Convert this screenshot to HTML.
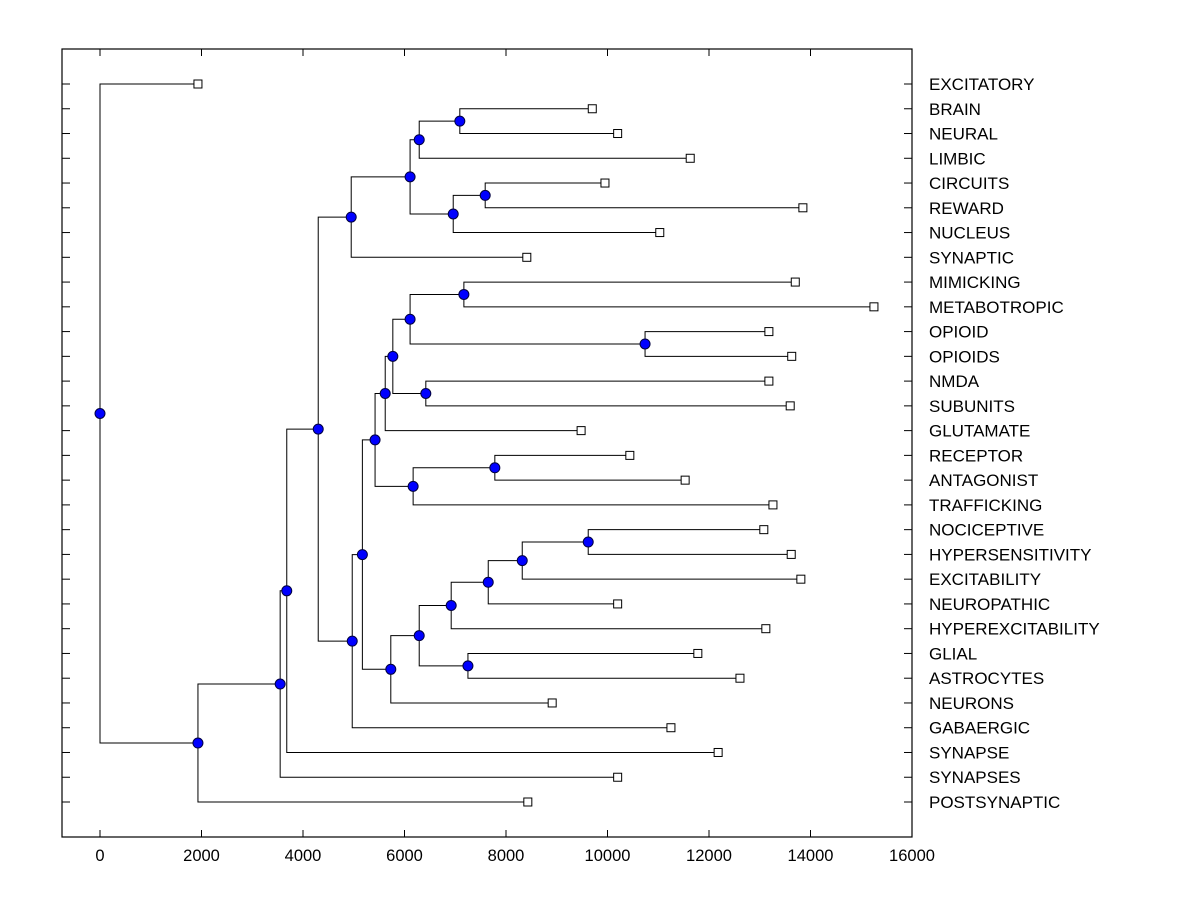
<!DOCTYPE html>
<html><head><meta charset="utf-8"><style>
body{margin:0;background:#fff;}
svg{display:block;font-family:"Liberation Sans",Arial,sans-serif;}
</style></head><body>
<svg id="chart" width="1200" height="900" xmlns="http://www.w3.org/2000/svg">
<rect width="1200" height="900" fill="#fff"/>
<g id="axes"></g>
<g id="links"></g>
<g id="marks"></g>
<g id="labels"></g>
</svg>
<script>
const leaves = ["EXCITATORY","BRAIN","NEURAL","LIMBIC","CIRCUITS","REWARD","NUCLEUS","SYNAPTIC","MIMICKING","METABOTROPIC","OPIOID","OPIOIDS","NMDA","SUBUNITS","GLUTAMATE","RECEPTOR","ANTAGONIST","TRAFFICKING","NOCICEPTIVE","HYPERSENSITIVITY","EXCITABILITY","NEUROPATHIC","HYPEREXCITABILITY","GLIAL","ASTROCYTES","NEURONS","GABAERGIC","SYNAPSE","SYNAPSES","POSTSYNAPTIC"];
const leafValues = [1930,9700,10200,11630,9950,13850,11030,8410,13700,15250,13180,13630,13180,13600,9480,10440,11530,13260,13080,13620,13810,10200,13120,11780,12610,8910,11250,12180,10200,8430];
const mergeChildren = [
 ["L1","L2"],["N0","L3"],["L4","L5"],["N2","L6"],["N1","N3"],["N4","L7"],
 ["L8","L9"],["L10","L11"],["N6","N7"],["L12","L13"],["N8","N9"],["N10","L14"],
 ["L15","L16"],["N12","L17"],["N11","N13"],["L18","L19"],["N15","L20"],["N16","L21"],
 ["N17","L22"],["L23","L24"],["N18","N19"],["N20","L25"],["N14","N21"],["N22","L26"],
 ["N5","N23"],["N24","L27"],["N25","L28"],["N26","L29"],["L0","N27"]];
const mergeHeights = [7090,6290,7590,6960,6110,4950,7170,10740,6110,6420,5770,5620,7780,6170,5420,9620,8320,7650,6920,7250,6290,5730,5170,4970,4300,3680,3550,1930,0];
const xTicks = [0,2000,4000,6000,8000,10000,12000,14000,16000];

const NS="http://www.w3.org/2000/svg";
const L=62,R=912,T=49,B=837;
const xs=v=>100+v*(812/16000);
const ys=i=>84+i*(718/29);
function mk(tag,attrs,parent){const e=document.createElementNS(NS,tag);for(const k in attrs)e.setAttribute(k,attrs[k]);parent.appendChild(e);return e;}
const axes=document.getElementById('axes'),links=document.getElementById('links'),marks=document.getElementById('marks'),labels=document.getElementById('labels');
const frame=mk('rect',{x:L,y:T,width:R-L,height:B-T,fill:'none',stroke:'#000','stroke-width':1.2},axes);


xTicks.forEach(t=>{
  const x=xs(t);
  mk('line',{x1:x,y1:T,x2:x,y2:T+7,stroke:'#000'},axes);
  mk('line',{x1:x,y1:B,x2:x,y2:B-7,stroke:'#000'},axes);
  const tx=mk('text',{x:x,y:861,'text-anchor':'middle','font-size':16.5,fill:'#000'},axes);
  tx.textContent=t;
  
  
});
leaves.forEach((n,i)=>{
  const y=ys(i);
  mk('line',{x1:L,y1:y,x2:L+8,y2:y,stroke:'#000'},axes);
  mk('line',{x1:R,y1:y,x2:R-8,y2:y,stroke:'#000'},axes);
  const tx=mk('text',{x:929,y:y+6,'font-size':17,fill:'#000'},labels);
  tx.textContent=n;
  
  
});
const pos={};
leaves.forEach((n,i)=>{pos['L'+i]={x:xs(leafValues[i]),y:ys(i)};});
mergeChildren.forEach((c,i)=>{
  const a=pos[c[0]],b=pos[c[1]],x=xs(mergeHeights[i]);
  pos['N'+i]={x:x,y:(a.y+b.y)/2};
  mk('path',{d:`M${a.x},${a.y}H${x}V${b.y}H${b.x}`,fill:'none',stroke:'#000','stroke-width':1},links);
});
leaves.forEach((n,i)=>{
  const p=pos['L'+i];
  const r=mk('rect',{x:p.x-4,y:p.y-4,width:8,height:8,fill:'#fff',stroke:'#000','stroke-width':1},marks);
  
  
});
mergeChildren.forEach((c,i)=>{
  const p=pos['N'+i];
  const ci=mk('circle',{cx:p.x,cy:p.y,r:5,fill:'#0000ff',stroke:'#000040','stroke-width':1},marks);
  
  
});
</script>
</body></html>
